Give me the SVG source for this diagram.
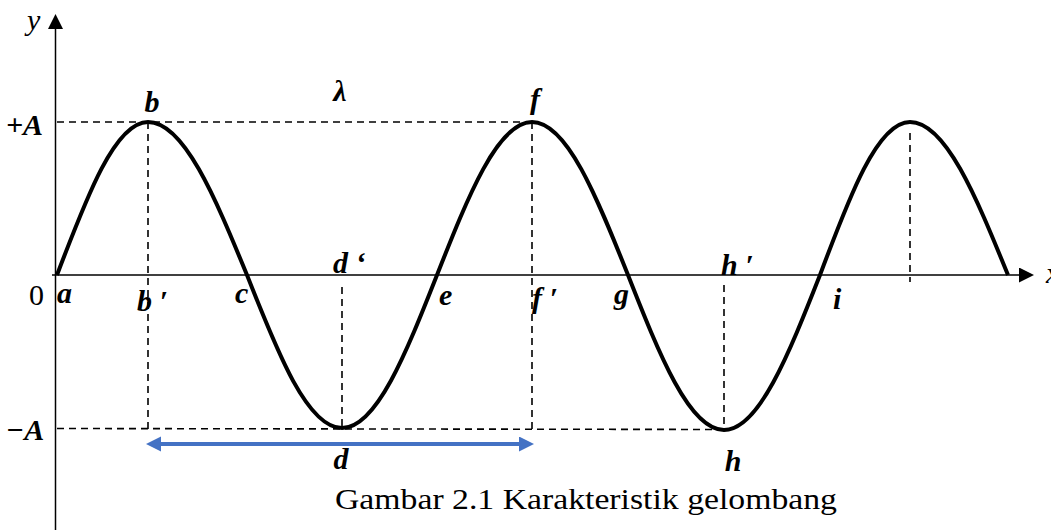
<svg xmlns="http://www.w3.org/2000/svg" width="1051" height="530" viewBox="0 0 1051 530">
<style>
.ax{stroke:#000;stroke-width:1.5;fill:none}
.dash{stroke:#000;stroke-width:1.6;stroke-dasharray:7 5;fill:none}
.wave{stroke:#000;stroke-width:4;fill:none;stroke-linejoin:round}
.lbl{font-family:"Liberation Serif","Times New Roman",serif;font-weight:bold;font-style:italic;font-size:30px;fill:#000}
.reg{font-family:"Liberation Serif","Times New Roman",serif;font-size:30px;fill:#000}
.cap{font-family:"Liberation Serif","Times New Roman",serif;font-size:29px;fill:#000}
</style>
<defs>
<marker id="axhead" markerUnits="userSpaceOnUse" markerWidth="16" markerHeight="16" refX="0" refY="7.5" orient="auto" viewBox="0 0 16 16">
<path d="M0,0 L15,7.5 L0,15 z" fill="#000"/>
</marker>
<marker id="bluehead" markerUnits="userSpaceOnUse" markerWidth="16" markerHeight="16" refX="7" refY="7.5" orient="auto-start-reverse" viewBox="0 0 16 16">
<path d="M0,0 L15,7.5 L0,15 z" fill="#4472C4"/>
</marker>
</defs>
<rect width="1051" height="530" fill="#fff"/>

<g id="guides">
<line class="dash" x1="57" y1="122" x2="532" y2="122"/>
<line class="dash" x1="57" y1="428.5" x2="731" y2="429.5"/>
<line class="dash" x1="148" y1="122" x2="148" y2="433"/>
<line class="dash" x1="532" y1="122" x2="532" y2="433"/>
<line class="dash" x1="342" y1="287" x2="342" y2="428"/>
<line class="dash" x1="724" y1="285" x2="724" y2="430"/>
<line class="dash" x1="910" y1="133" x2="910" y2="282"/>
</g>

<g id="axes">
<line class="ax" x1="55.5" y1="530" x2="55.5" y2="29" marker-end="url(#axhead)"/>
<line class="ax" x1="52" y1="275" x2="1019" y2="275" marker-end="url(#axhead)"/>
</g>

<g id="wave">
<path class="wave" d="M57,275 C86.7,196.6 115.1,122 148,122 C183.8,122 214.7,196.6 247,275 C278,353.9 307.6,428 342,428 C376.4,428 406,353.5 437,275 C468,196.6 497.6,122 532,122 C566.7,122 596.7,196.6 628,275 C659.3,354.4 689.3,430 724,430 C758.7,430 788.7,354.4 820,275 C849.3,196.6 877.4,122 910,122 C945.5,122 976,196.6 1008,275"/>
</g>

<g id="connectors">
<line x1="154" y1="444" x2="526" y2="444" stroke="#4472C4" stroke-width="4" marker-start="url(#bluehead)" marker-end="url(#bluehead)"/>
</g>

<g id="labels">
<text class="reg" style="font-style:italic" x="27" y="30" font-size="27">y</text>
<text class="lbl" x="6" y="135">+A</text>
<text class="lbl" x="152" y="112" text-anchor="middle">b</text>
<text class="lbl" x="340" y="101" text-anchor="middle">λ</text>
<text class="lbl" x="535" y="109" text-anchor="middle">f</text>
<text class="reg" x="29" y="305">0</text>
<text class="lbl" x="57" y="303">a</text>
<text class="lbl" x="137" y="311">b ′</text>
<text class="lbl" x="235" y="303">c</text>
<text class="lbl" x="333" y="273">d ‘</text>
<text class="lbl" x="439" y="305">e</text>
<text class="lbl" x="532" y="308">f ′</text>
<text class="lbl" x="614" y="304">g</text>
<text class="lbl" x="721" y="275">h ′</text>
<text class="lbl" x="833" y="309">i</text>
<text class="lbl" x="6" y="440">−A</text>
<text class="lbl" x="341" y="469" text-anchor="middle">d</text>
<text class="lbl" x="733" y="471" text-anchor="middle">h</text>
<text class="reg" style="font-style:italic" x="1046" y="283" font-size="27">x</text>
<text class="cap" x="335" y="509" textLength="502" lengthAdjust="spacingAndGlyphs">Gambar 2.1 Karakteristik gelombang</text>
</g>
</svg>
